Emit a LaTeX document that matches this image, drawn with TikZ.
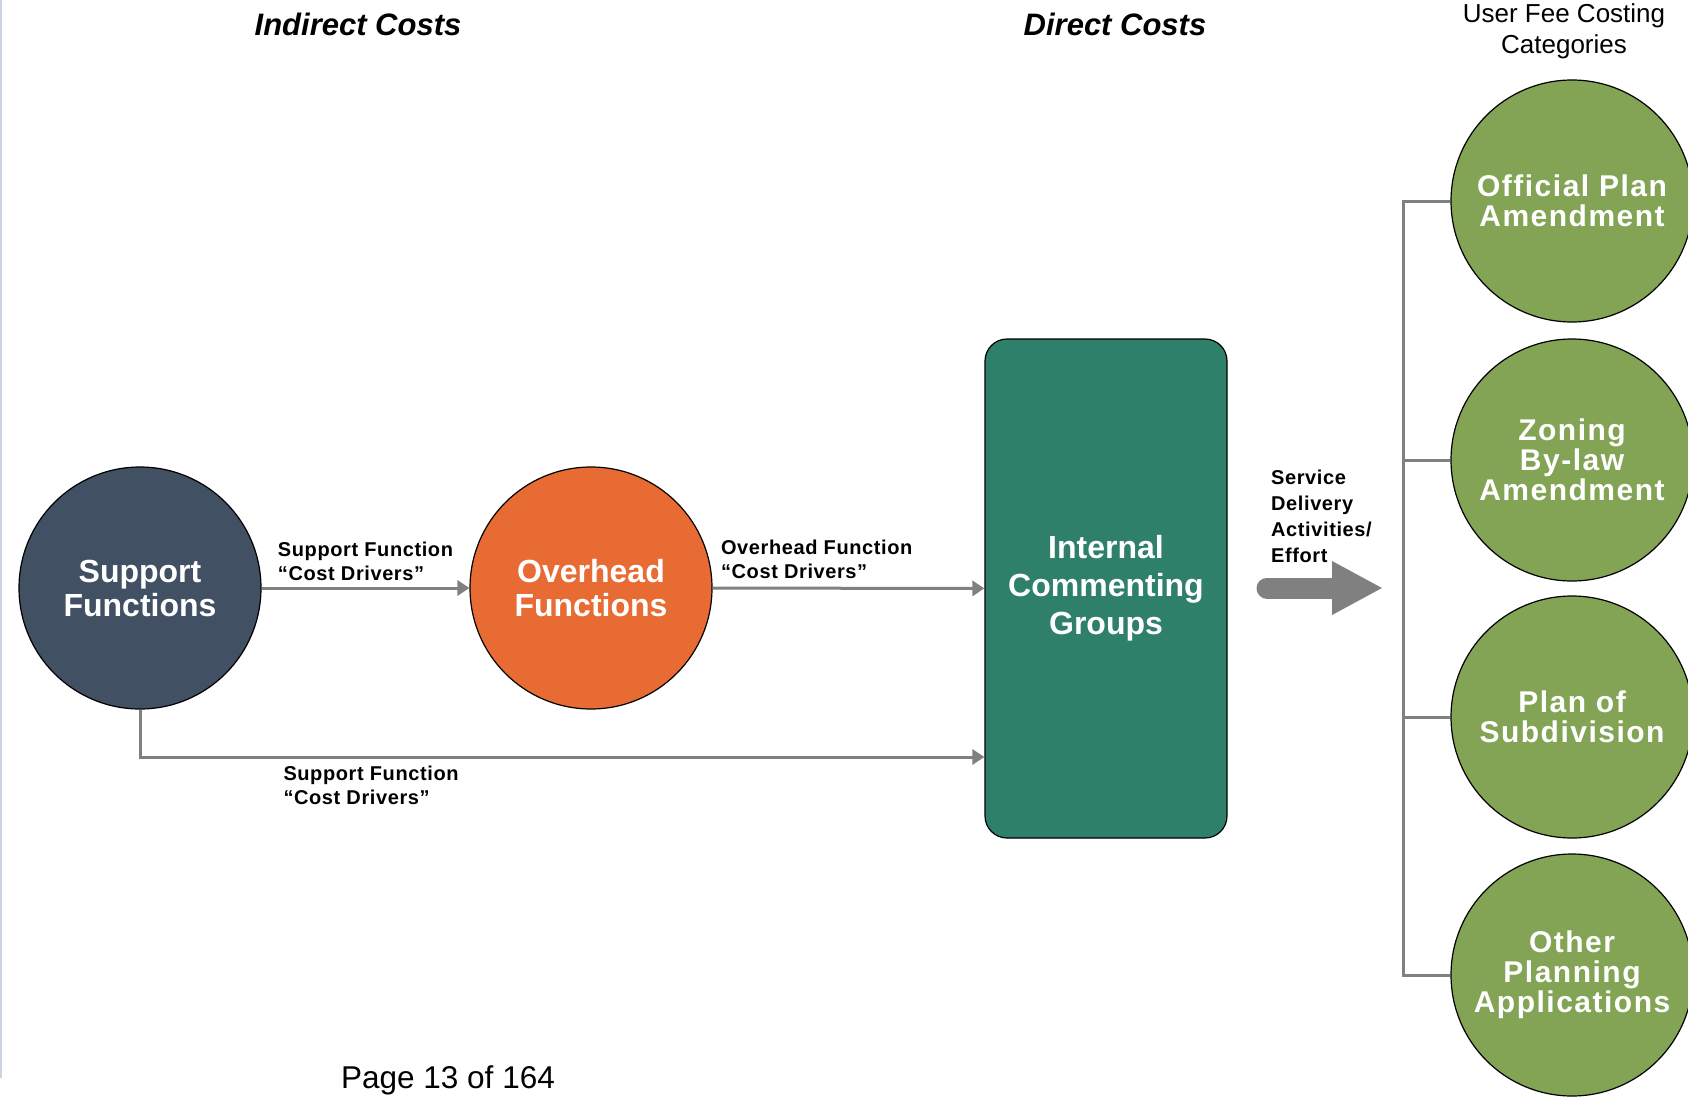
\documentclass[tikz,border=0pt]{standalone}
\usepackage{fontspec}
\setmainfont{Liberation Sans}
\newfontfamily\lblfont[LetterSpace=3]{Liberation Sans}
\newfontfamily\catfont[LetterSpace=5]{Liberation Sans}
\usetikzlibrary{arrows.meta, positioning}
\definecolor{supblue}{HTML}{415062}
\definecolor{ovhorange}{HTML}{E96B34}
\definecolor{intteal}{HTML}{2E806B}
\definecolor{catgreen}{HTML}{82A454}
\definecolor{linegray}{HTML}{808080}
\definecolor{edgeblue}{HTML}{CDD5E3}

\begin{document}
\begin{tikzpicture}[x=1pt, y=-1pt,
  func/.style={circle, draw=black, line width=1.2pt, minimum size=242pt, inner sep=0pt,
    text=white, align=center, font=\fontsize{32}{34}\selectfont\bfseries},
  cat/.style={func, fill=catgreen, font=\catfont\fontsize{30}{30}\selectfont\bfseries},
  lbl/.style={align=left, inner sep=1pt, font=\lblfont\fontsize{20}{24}\selectfont\bfseries},
  conn/.style={draw=linegray, line width=3pt, -{Triangle[length=12pt, width=15pt]}},
  brk/.style={draw=linegray, line width=3pt},
  title/.style={font=\fontsize{31}{33}\selectfont\bfseries\itshape}]
\useasboundingbox (0,0) rectangle (1688,1097);

% Page edge
\draw[edgeblue, line width=2pt] (1,0) -- (1,1078);

% Headings
\node[title] (indir) at (358,24) {Indirect Costs};
\node[title] (dir) at (1115,24) {Direct Costs};
\node[anchor=north, inner sep=0pt, align=center, font=\fontsize{26}{31}\selectfont] (cathead) at (1564,3) {User Fee Costing\\Categories};

% Functions
\node[func, fill=supblue] (sup) at (140,588) {Support\\Functions};
\node[func, fill=ovhorange] (ovh) at (591,588) {Overhead\\Functions};
\node[draw=black, line width=1.2pt, fill=intteal, rounded corners=22pt, minimum width=242pt,
  minimum height=499pt, text=white, align=center, font=\fontsize{32}{38}\selectfont\bfseries]
  (igrp) at (1106,588.5) {Internal\\Commenting\\Groups};

% Cost drivers
\draw[conn] (sup) -- node[lbl, above, yshift=5pt] {Support Function\\“Cost Drivers”} (ovh);
\draw[conn] (ovh) -- node[lbl, above right, pos=0, xshift=6pt, yshift=7pt] {Overhead Function\\“Cost Drivers”} (igrp);
\draw[conn] (sup.south) |- node[lbl, anchor=north west, pos=0.5, xshift=141pt, yshift=-6pt] {Support Function\\“Cost Drivers”} (igrp.west |- 0,757);

% Service delivery
\node[lbl, anchor=north west, inner sep=0pt, font=\lblfont\fontsize{20}{26}\selectfont\bfseries] (sdtext) at (1271,470) {Service\\Delivery\\Activities/\\Effort};
\coordinate (sdA) at (1267,588);
\coordinate (sdB) at (1383,588);
\draw[linegray, line width=21pt, line cap=round, -{Triangle[length=51pt, width=50pt]}] (sdA) -- (sdB);

% Categories
\node[cat] (opa) at (1572,201) {Official Plan\\Amendment};
\node[cat] (zba) at (1572,460) {Zoning\\By-law\\Amendment};
\node[cat] (pos) at (1572,717) {Plan of\\Subdivision};
\node[cat] (opl) at (1572,975) {Other\\Planning\\Applications};
\coordinate (bt) at (1403,201);
\coordinate (bb) at (1403,975);
\draw[brk] (opa.west) -- (bt) -- (bb) -- (opl.west);
\draw[brk] (zba.west) -- (zba.west -| bt);
\draw[brk] (pos.west) -- (pos.west -| bt);

% Footer
\node[font=\fontsize{31.5}{33}\selectfont] (page) at (448,1080) {Page 13 of 164};
\end{tikzpicture}
\end{document}
